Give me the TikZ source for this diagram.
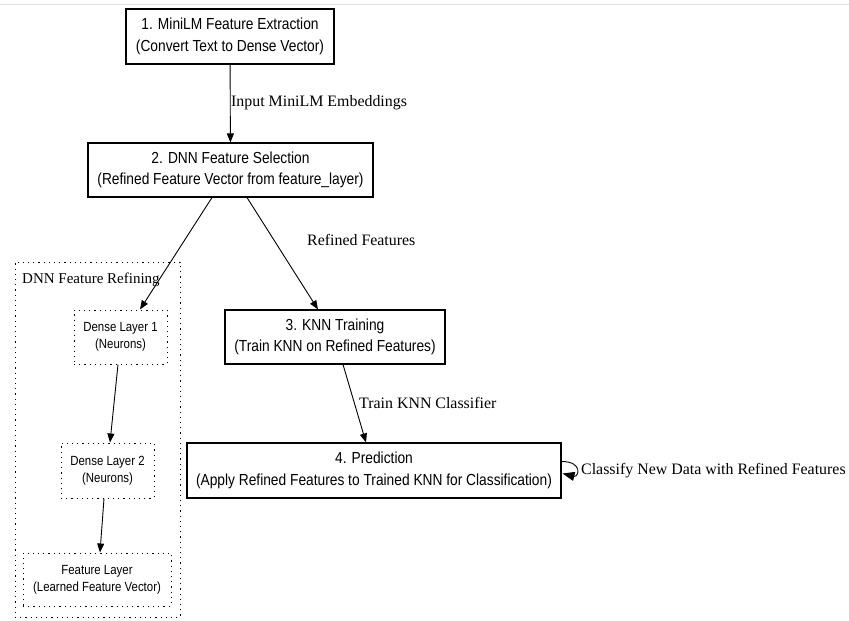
\documentclass[tikz,border=0pt]{standalone}
\usepackage{fontspec}
\setmainfont{Liberation Serif}
\setsansfont{Liberation Sans}[FakeStretch=0.86]
\usetikzlibrary{arrows.meta}

\begin{document}
\begin{tikzpicture}[x=1pt,y=-1pt,
        stage/.style={draw,line width=1.1pt,inner sep=0pt,align=center,
            font=\sffamily\fontsize{16}{21.5}\selectfont},
        layer/.style={draw,line width=1pt,dash pattern=on 1.2pt off 4pt,inner sep=0pt,
            align=center,font=\sffamily\fontsize{13.3}{17}\selectfont},
        elabel/.style={anchor=west,inner sep=0pt,font=\fontsize{15.9}{18}\selectfont},
        flow/.style={line width=0.9pt,-{Triangle[length=9pt,width=7pt]}}]
    \useasboundingbox (0,0) rectangle (849,621);
    \draw[black!12,line width=1pt] (0,4) -- (849,4);

    % Main stages
    \node[stage,minimum width=208pt,minimum height=55pt] (extract) at (230,36.5)
        {1. MiniLM Feature Extraction\\(Convert Text to Dense Vector)};
    \node[stage,minimum width=285pt,minimum height=54pt] (select) at (230.5,170)
        {2. DNN Feature Selection\\(Refined Feature Vector from feature\_layer)};
    \node[stage,minimum width=220pt,minimum height=54pt] (train) at (335,337)
        {3. KNN Training\\(Train KNN on Refined Features)};
    \node[stage,minimum width=374pt,minimum height=55pt] (predict) at (374,470.5)
        {4. Prediction\\(Apply Refined Features to Trained KNN for Classification)};

    % DNN cluster
    \node[layer,minimum width=165pt,minimum height=355pt] (cluster) at (97.5,439.5) {};
    \node[elabel,font=\fontsize{15}{18}\selectfont] (clabel) at (22,280) {DNN Feature Refining};
    \node[layer,minimum width=93pt,minimum height=54pt] (dense1) at (120.5,337)
        {Dense Layer 1\\(Neurons)};
    \node[layer,minimum width=93pt,minimum height=55pt] (dense2) at (107.5,470.5)
        {Dense Layer 2\\(Neurons)};
    \node[layer,minimum width=148pt,minimum height=53pt] (featlayer) at (97,579.5)
        {Feature Layer\\(Learned Feature Vector)};

    % Edge labels
    \node[elabel] (l1) at (231,103) {Input MiniLM Embeddings};
    \node[elabel] (l2) at (307,240) {Refined Features};
    \node[elabel] (l3) at (359,403) {Train KNN Classifier};
    \node[elabel] (l4) at (581,471) {Classify New Data with Refined Features};

    % Edges
    \draw[flow] (extract) -- (select);
    \draw[flow] ([xshift=-18.5pt]select.south) -- ([xshift=19.5pt]dense1.north);
    \draw[flow] ([xshift=16.5pt]select.south) -- ([xshift=-17pt]train.north);
    \draw[flow] ([xshift=8pt]train.south) -- ([xshift=-8pt]predict.north);
    \draw[flow] ([xshift=-2.5pt]dense1.south) -- ([xshift=2.5pt]dense2.north);
    \draw[flow] ([xshift=-3.5pt]dense2.south) -- ([xshift=3pt]featlayer.north);
    \draw[flow,-{Triangle[length=12pt,width=9pt]}] ([yshift=9pt]predict.east)
        .. controls +(22,0) and +(16,4) .. ([xshift=1pt,yshift=-3pt]predict.east);
\end{tikzpicture}
\end{document}
